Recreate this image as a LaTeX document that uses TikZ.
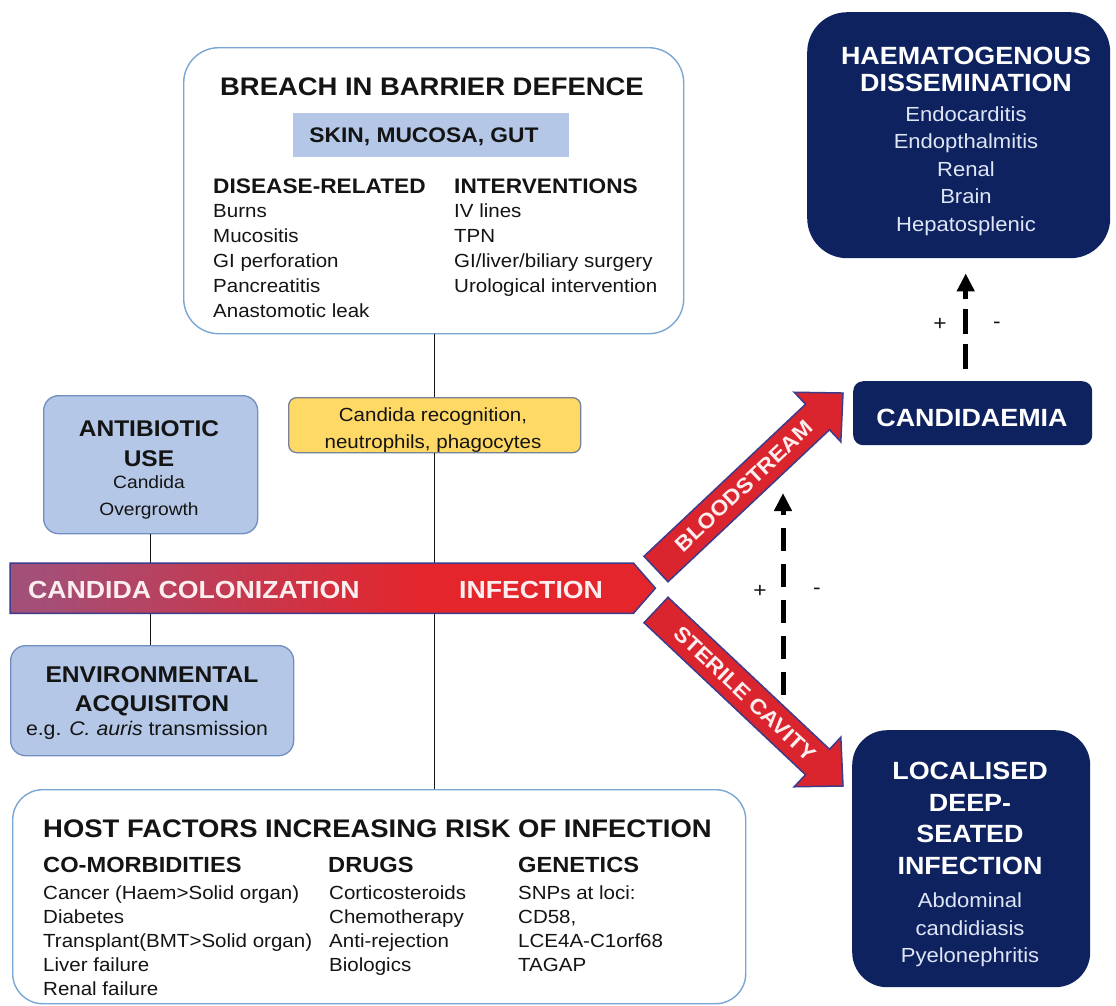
\documentclass[tikz,border=0pt]{standalone}
\usepackage{fontspec}
\setmainfont{Liberation Sans}[FakeStretch=1.08]
\usetikzlibrary{arrows.meta,calc}
\definecolor{navy}{RGB}{15,34,96}
\definecolor{navytext}{RGB}{222,230,246}
\definecolor{boxblue}{RGB}{180,199,231}
\definecolor{boxedge}{RGB}{112,142,192}
\definecolor{lightedge}{RGB}{122,166,214}
\definecolor{yellowfill}{RGB}{255,217,102}
\definecolor{yellowedge}{RGB}{118,128,150}
\definecolor{arrowred}{RGB}{228,37,43}
\definecolor{diagred}{RGB}{218,36,46}
\definecolor{arrowedge}{RGB}{62,60,138}
\definecolor{colpurple}{RGB}{126,104,152}
\definecolor{colmix}{RGB}{165,78,118}
\definecolor{paletext}{RGB}{252,238,238}
\definecolor{inkc}{RGB}{20,20,20}
\pgfdeclarehorizontalshading{colshade}{100bp}{color(0bp)=(colpurple); color(28bp)=(colmix); color(57bp)=(arrowred); color(100bp)=(arrowred)}
\newcommand\fsz[1]{\fontsize{#1}{#1}\selectfont}
\begin{document}
\begin{tikzpicture}[x=1pt,y=-1pt,
  whitebox/.style={draw=lightedge, line width=1.4pt, fill=white, anchor=north west, inner sep=0pt},
  bluebox/.style={draw=boxedge, line width=1.3pt, fill=boxblue, rounded corners=15pt, anchor=north west, inner sep=0pt},
  navybox/.style={fill=navy, anchor=north west, inner sep=0pt},
  txt/.style={inner sep=0pt, anchor=base, text=inkc},
  lefttxt/.style={txt, anchor=base west},
  hdr/.style={lefttxt, font=\bfseries\fsz{21}},
  hosthdr/.style={lefttxt, font=\bfseries\fsz{21.9}},
  item/.style={lefttxt, font=\fsz{19}},
  navytitle/.style={txt, text=white, font=\bfseries\fsz{24.9}},
  navyitem/.style={txt, text=navytext, font=\fsz{20.4}},
  conn/.style={draw=inkc, line width=1.5pt},
  dasharrow/.style={line width=5pt, draw=black, -{Triangle[width=17pt,length=18pt]}},
  bigarrow/.style={fill=diagred, draw=arrowedge, line width=1.5pt, line join=miter},
  arrowtext/.style={inner sep=0pt, text=paletext, font=\bfseries\fsz{21.3}},
  sign/.style={txt, font=\fsz{21}}
]
\useasboundingbox (0,0) rectangle (1116,1005);
\fill[white] (0,0) rectangle (1116,1005);

% ---------- breach box ----------
\node[whitebox, rounded corners=35pt, minimum width=500pt, minimum height=286pt] (breach) at (183,47) {};
\node[txt, font=\bfseries\fsz{25.4}] (breachT) at (432,95) {BREACH IN BARRIER DEFENCE};
\node[fill=boxblue, anchor=north west, inner sep=0pt, minimum width=276pt, minimum height=44pt] (skin) at (293,113) {};
\node[txt, font=\bfseries\fsz{21.1}] (skinT) at (424,142) {SKIN, MUCOSA, GUT};
\node[hdr] (disH) at (213,193) {DISEASE-RELATED};
\node[hdr] (intH) at (454,193) {INTERVENTIONS};
\foreach \t [count=\i] in {Burns, Mucositis, GI perforation, Pancreatitis, Anastomotic leak}
  \node[item] (dis\i) at (213,193+24.8*\i) {\t};
\foreach \t [count=\i] in {IV lines, TPN, GI/liver/biliary surgery, Urological intervention}
  \node[item] (int\i) at (454,193+24.8*\i) {\t};

% ---------- immune box ----------
\node[draw=yellowedge, line width=1.3pt, fill=yellowfill, rounded corners=8pt, anchor=north west, inner sep=0pt, minimum width=292pt, minimum height=55pt] (immune) at (288,397) {};
\foreach \t [count=\i] in {{Candida recognition,}, {neutrophils, phagocytes}}
  \node[txt, font=\fsz{19}] (imm\i) at (433,395+26.5*\i) {\t};

% ---------- antibiotic box ----------
\node[bluebox, minimum width=214pt, minimum height=138pt] (abx) at (43,395) {};
\node[txt, font=\bfseries\fsz{22.7}] (abxT1) at (149,436) {ANTIBIOTIC};
\node[txt, font=\bfseries\fsz{22.7}] (abxT2) at (149,466) {USE};
\node[txt, font=\fsz{17.8}] (abxI1) at (149,488) {Candida};
\node[txt, font=\fsz{17.8}] (abxI2) at (149,515) {Overgrowth};

% ---------- environmental box ----------
\node[bluebox, minimum width=283pt, minimum height=110pt] (env) at (10,645) {};
\node[txt, font=\bfseries\fsz{22.8}] (envT1) at (152,682) {ENVIRONMENTAL};
\node[txt, font=\bfseries\fsz{22.8}] (envT2) at (152,711) {ACQUISITON};
\node[txt, font=\fsz{19.7}] (envI) at (147,735) {e.g. \textit{C. auris} transmission};

% ---------- colonization arrow ----------
\node[inner sep=0pt, anchor=north west, minimum width=623pt, minimum height=50pt] (colon) at (10,563) {};

% ---------- host box ----------
\node[whitebox, rounded corners=30pt, minimum width=733pt, minimum height=214pt] (host) at (12,789) {};
\node[lefttxt, font=\bfseries\fsz{25.4}] (hostT) at (43,837) {HOST FACTORS INCREASING RISK OF INFECTION};
\node[hosthdr] (comH) at (43,872) {CO-MORBIDITIES};
\node[hosthdr] (drgH) at (328,872) {DRUGS};
\node[hosthdr] (genH) at (518,872) {GENETICS};
\foreach \t [count=\i] in {Cancer (Haem>Solid organ), Diabetes, Transplant(BMT>Solid organ), Liver failure, Renal failure}
  \node[item] (com\i) at (43,874.8+24.2*\i) {\t};
\foreach \t [count=\i] in {Corticosteroids, Chemotherapy, Anti-rejection, Biologics}
  \node[item] (drg\i) at (329,874.8+24.2*\i) {\t};
\foreach \t [count=\i] in {SNPs at loci:, {CD58,}, LCE4A-C1orf68, TAGAP}
  \node[item] (gen\i) at (518,874.8+24.2*\i) {\t};

% ---------- connectors ----------
\draw[conn] (breach.south -| immune.north) -- (immune.north);
\draw[conn] (immune.south) -- (immune.south |- colon.north);
\draw[conn] (immune.south |- colon.south) -- (immune.south |- host.north);
\draw[conn] (abx.south) -- (abx.south |- colon.north);
\draw[conn] (abx.south |- colon.south) -- (abx.south |- env.north);

% colonization arrow body
\path[draw=arrowedge, line width=1.5pt, line join=miter, shade, shading=colshade]
  (colon.north west) -- (colon.north east) -- ($(colon.east)+(22,0)$) -- (colon.south east) -- (colon.south west) -- cycle;
\node[lefttxt, text=paletext, font=\bfseries\fsz{24.7}] (colT) at (28,598.5) {CANDIDA COLONIZATION};
\node[lefttxt, text=paletext, font=\bfseries\fsz{24.7}] (infT) at (459,598.5) {INFECTION};

% ---------- diagonal arrows ----------
\begin{scope}[shift={(656,569)}, rotate=43.26]
  \path[bigarrow] (0,-17.5) -- (221.8,-17.5) -- (221.8,-34) -- (256.8,0) -- (221.8,34) -- (221.8,17.5) -- (0,17.5) -- cycle;
  \node[arrowtext, rotate=43.26] (bloodT) at (121,0) {BLOODSTREAM};
\end{scope}
\begin{scope}[shift={(656,610)}, rotate=-43.26]
  \path[bigarrow] (0,-17.5) -- (221.8,-17.5) -- (221.8,-34) -- (256.8,0) -- (221.8,34) -- (221.8,17.5) -- (0,17.5) -- cycle;
  \node[arrowtext, rotate=-43.26] (sterT) at (122,0) {STERILE CAVITY};
\end{scope}

% ---------- navy boxes ----------
\node[navybox, rounded corners=40pt, minimum width=303pt, minimum height=246pt] (haem) at (807,12) {};
\node[navytitle] (haemT1) at (966,64) {HAEMATOGENOUS};
\node[navytitle] (haemT2) at (966,91) {DISSEMINATION};
\foreach \t [count=\i] in {Endocarditis, Endopthalmitis, Renal, Brain, Hepatosplenic}
  \node[navyitem] (haemI\i) at (966,94.1+27.4*\i) {\t};

\node[navybox, rounded corners=10pt, minimum width=239pt, minimum height=64pt] (cand) at (853,381) {};
\node[navytitle] (candT) at (972,426.5) {CANDIDAEMIA};

\node[navybox, rounded corners=35pt, minimum width=238pt, minimum height=257pt] (loc) at (852,730) {};
\foreach \t [count=\i] in {LOCALISED, DEEP-, SEATED, INFECTION}
  \node[navytitle] (locT\i) at (970,748+31.6*\i) {\t};
\foreach \t [count=\i] in {Abdominal, candidiasis, Pyelonephritis}
  \node[navyitem] (locI\i) at (970,880.3+27.5*\i) {\t};

% ---------- dashed arrows ----------
\draw[dasharrow, dash pattern=on 25pt off 10pt, shorten <=12pt, shorten >=15pt]
  ($(cand.north)+(-7,0)$) -- ($(cand.north |- haem.south)+(-7,0)$);
\node[sign] (p1) at (940,330) {+};
\node[sign] (m1) at (997,328) {-};

\coordinate (dlow) at (783,695);
\coordinate (dhigh) at (783,493);
\draw[dasharrow, dash pattern=on 23pt off 13pt] (dlow) -- (dhigh);
\node[sign] (p2) at (760,597) {+};
\node[sign] (m2) at (817,594) {-};
\end{tikzpicture}
\end{document}
